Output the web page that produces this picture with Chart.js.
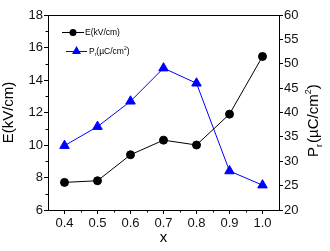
<!DOCTYPE html>
<html>
<head>
<meta charset="utf-8">
<script src="https://cdn.jsdelivr.net/npm/chart.js@4.4.1/dist/chart.umd.min.js"></script>
<style>
  html, body { margin: 0; padding: 0; background: #fff; }
  #wrap { width: 330px; height: 251px; }
</style>
</head>
<body>
<div id="wrap"><canvas id="c" width="330" height="251"></canvas></div>
<script>
// data
const xValues = [0.4, 0.5, 0.6, 0.7, 0.8, 0.9, 1.0];
const eField = [7.7, 7.8, 9.4, 10.3, 10.0, 11.9, 15.45];
const pr = [33.2, 37.1, 42.3, 49.1, 46.0, 28.0, 25.1];

const xTicks = [0.4, 0.5, 0.6, 0.7, 0.8, 0.9, 1.0];
const eTicks = [6, 8, 10, 12, 14, 16, 18];
const pTicks = [20, 25, 30, 35, 40, 45, 50, 55, 60];

const font = '"Liberation Sans", Arial, sans-serif';

// closed frame, minor ticks, right axis title and legend
const extras = {
    id: 'extras',
    afterDraw(chart) {
        const c = chart.ctx;
        const a = chart.chartArea;
        const x = chart.scales.x, y = chart.scales.y;
        c.save();
        c.strokeStyle = '#000';
        c.lineWidth = 1;
        c.beginPath();
        c.moveTo(a.left, a.top + 0.5);
        c.lineTo(a.right, a.top + 0.5);
        c.stroke();

        // minor ticks
        c.beginPath();
        for (let v = 0.45; v < 1.0; v += 0.1) {
            const px = Math.round(x.getPixelForValue(v)) + 0.5;
            c.moveTo(px, a.bottom);
            c.lineTo(px, a.bottom + 2.5);
        }
        for (let v = 7; v < 18; v += 2) {
            const py = Math.round(y.getPixelForValue(v)) + 0.5;
            c.moveTo(a.left, py);
            c.lineTo(a.left - 2.5, py);
        }
        c.stroke();

        // right title P_r(µC/cm²)
        c.translate(318, 113);
        c.rotate(-Math.PI / 2);
        c.fillStyle = '#000';
        c.textBaseline = 'alphabetic';
        c.font = '15px ' + font;
        let tx = -44;
        c.fillText('P', tx, 0);
        tx += c.measureText('P').width;
        c.font = '9px ' + font;
        c.fillText('r', tx, 4);
        tx += c.measureText('r').width + 1;
        c.font = '15px ' + font;
        c.fillText('(\u00b5C/cm', tx, 0);
        tx += c.measureText('(\u00b5C/cm').width;
        c.font = '9px ' + font;
        c.fillText('2', tx, -7);
        tx += c.measureText('2').width;
        c.font = '15px ' + font;
        c.fillText(')', tx, 0);
        c.restore();

        // legend
        c.save();
        c.lineWidth = 1;
        c.strokeStyle = '#000';
        c.beginPath(); c.moveTo(62, 32.5); c.lineTo(84, 32.5); c.stroke();
        c.fillStyle = '#000';
        c.beginPath(); c.arc(73, 32.5, 3.5, 0, Math.PI * 2); c.fill();
        c.font = '8.5px ' + font;
        c.textBaseline = 'middle';
        c.fillText('E(kV/cm)', 85, 32.5);

        c.strokeStyle = '#0000ff';
        c.beginPath(); c.moveTo(66, 51.5); c.lineTo(87, 51.5); c.stroke();
        c.fillStyle = '#0000ff';
        c.beginPath(); c.moveTo(76.5, 46); c.lineTo(81, 54); c.lineTo(72, 54); c.closePath(); c.fill();
        c.fillStyle = '#000';
        let lx = 89;
        c.fillText('P', lx, 51.5);
        lx += c.measureText('P').width;
        c.font = '5px ' + font;
        c.fillText('r', lx, 55);
        lx += c.measureText('r').width;
        c.font = '8.5px ' + font;
        c.fillText('(\u00b5C/cm', lx, 51.5);
        lx += c.measureText('(\u00b5C/cm').width;
        c.font = '5px ' + font;
        c.fillText('2', lx, 48.5);
        lx += c.measureText('2').width;
        c.font = '8.5px ' + font;
        c.fillText(')', lx, 51.5);
        c.restore();
    }
};

new Chart(document.getElementById('c').getContext('2d'), {
    type: 'line',
    data: {
        labels: xValues,
        datasets: [{
            label: 'E(kV/cm)',
            data: xValues.map((v, i) => ({x: v, y: eField[i]})),
            borderColor: '#000',
            backgroundColor: '#000',
            borderWidth: 1,
            pointStyle: 'circle',
            pointRadius: 4,
            yAxisID: 'y'
        }, {
            label: 'Pr(\u00b5C/cm2)',
            data: xValues.map((v, i) => ({x: v, y: pr[i]})),
            borderColor: '#0000ff',
            backgroundColor: '#0000ff',
            borderWidth: 1,
            pointStyle: 'triangle',
            pointRadius: 5.5,
            yAxisID: 'y1'
        }]
    },
    plugins: [extras],
    options: {
        responsive: false,
        animation: false,
        layout: { padding: { top: 15, left: 0, right: 0, bottom: 0 } },
        plugins: { legend: { display: false }, tooltip: { enabled: false } },
        scales: {
            x: {
                type: 'linear',
                min: 0.35, max: 1.05,
                afterBuildTicks: s => { s.ticks = xTicks.map(v => ({value: v})); },
                afterFit: s => { s.height = 41; },
                grid: { drawOnChartArea: false, drawTicks: true, tickLength: 4, tickColor: '#000' },
                border: { display: true, color: '#000', width: 1 },
                ticks: { color: '#111', font: { family: font, size: 13 }, padding: 2, maxRotation: 0,
                    callback: v => v.toFixed(1) },
                title: { display: true, text: 'x', color: '#000', font: { family: font, size: 15 }, padding: { top: 2 } }
            },
            y: {
                position: 'left',
                min: 6, max: 18,
                afterBuildTicks: s => { s.ticks = eTicks.map(v => ({value: v})); },
                afterFit: s => { s.width = 48; },
                grid: { drawOnChartArea: false, drawTicks: true, tickLength: 4, tickColor: '#000' },
                border: { display: true, color: '#000', width: 1 },
                ticks: { color: '#111', font: { family: font, size: 13 }, padding: 1 },
                title: { display: true, text: 'E(kV/cm)', color: '#000', font: { family: font, size: 15 }, padding: 0 }
            },
            y1: {
                position: 'right',
                min: 20, max: 60,
                afterBuildTicks: s => { s.ticks = pTicks.map(v => ({value: v})); },
                afterFit: s => { s.width = 51; },
                grid: { drawOnChartArea: false, drawTicks: true, tickLength: 4, tickColor: '#000' },
                border: { display: true, color: '#000', width: 1 },
                ticks: { color: '#111', font: { family: font, size: 13 }, padding: 1 }
            }
        }
    }
});
</script>
</body>
</html>
